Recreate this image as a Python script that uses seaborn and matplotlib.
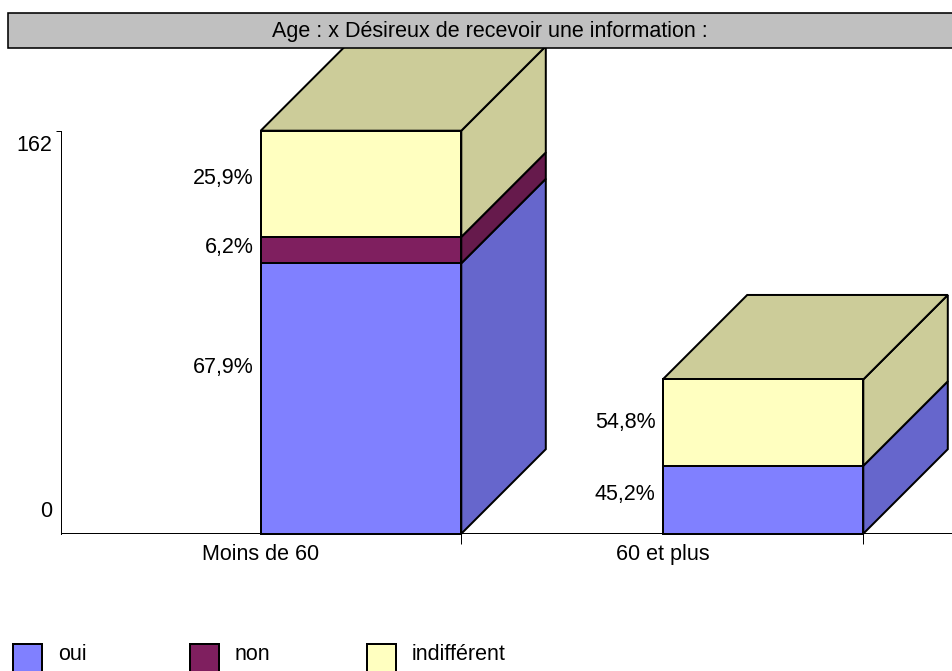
import numpy as np
import pandas as pd
import matplotlib
matplotlib.use("Agg")
import matplotlib.pyplot as plt
import matplotlib.patches as mpatches
from matplotlib.transforms import ScaledTranslation
import seaborn as sns

W, H = 952, 671
PX = 72 / 100  # points per pixel at dpi 100
FS = 15.5

TITLE = "Age : x Désireux de recevoir une information :"
AGES = ["Moins de 60", "60 et plus"]
# heights
OUI = [108.7, 27.3]
NON = [10.6, 0]
INDIFF = [42.7, 34.7]
YMAX = 162

# printed labels per age group (oui, non, indifferent)
PCT_LABELS = [["67,9%", "6,2%", "25,9%"], ["45,2%", "", "54,8%"]]

SERIES = ["oui", "non", "indifférent"]
FRONT = ["#8080FF", "#7F1F5F", "#FFFFC0"]
SIDE = ["#6666CC", "#661A4C", "#CCCC99"]
TOP_COLOR = "#CCCC99"

# upward nudge of each % label from its segment centre, pixels
LABEL_NUDGE = [[30.5, 3, 5], [5.7, 0, 0.5]]
DEPTH = 84.5  # pixels
AX_LEFT, AX_BOTTOM, AX_TOP = 61, 533.7, 130.7
BAND = 402
BAR_WIDTH = 200.6 / BAND

sns.set_theme(style="white")
plt.rcParams["font.family"] = ["Liberation Sans", "DejaVu Sans"]
plt.rcParams["font.size"] = FS

df = pd.DataFrame({"age": AGES, "oui": OUI, "non": NON, "indifférent": INDIFF})
totals = df[SERIES].sum(axis=1).to_numpy()

fig = plt.figure(figsize=(W / 100, H / 100), dpi=100)
ax = fig.add_axes([AX_LEFT / W, 1 - AX_BOTTOM / H, (W - AX_LEFT) / W, (AX_BOTTOM - AX_TOP) / H])

# stacked front faces
bottom = np.zeros(len(df))
for name, color in zip(SERIES, FRONT):
    sns.barplot(data=df, x="age", y=name, order=AGES, bottom=bottom, color=color,
                saturation=1, width=BAR_WIDTH, edgecolor="black", linewidth=2 * PX,
                ax=ax, zorder=3, clip_on=False)
    bottom = bottom + df[name].to_numpy()

ax.set_xlim((AX_LEFT - 361) / BAND, (W - 361) / BAND)
ax.set_ylim(0, YMAX)
ax.set_xlabel("")
ax.set_ylabel("")

# fake 3D: side and top faces, built from the bars seaborn drew
dx = DEPTH / BAND
dy = DEPTH * YMAX / (AX_BOTTOM - AX_TOP)
n_cat = len(AGES)
for i_s, color in enumerate(SIDE):
    for i_c in range(n_cat):
        bar = ax.containers[i_s][i_c]
        h = bar.get_height()
        if h == 0:
            continue
        x0, x1, y0 = bar.get_x(), bar.get_x() + bar.get_width(), bar.get_y()
        y1 = y0 + h
        ax.fill([x1, x1 + dx, x1 + dx, x1], [y0, y0 + dy, y1 + dy, y1],
                facecolor=color, edgecolor="black", linewidth=2 * PX, zorder=2, clip_on=False)
        if np.isclose(y1, totals[i_c]):
            ax.fill([x0, x1, x1 + dx, x0 + dx], [y1, y1, y1 + dy, y1 + dy],
                    facecolor=TOP_COLOR, edgecolor="black", linewidth=2 * PX, zorder=2, clip_on=False)
        ax.annotate(PCT_LABELS[i_c][i_s], (x0, y0 + h / 2), xytext=(-7 * PX, LABEL_NUDGE[i_c][i_s] * PX),
                    textcoords="offset points", ha="right", va="center", color="black", fontsize=FS)

# axes
sns.despine(ax=ax)
for s in ["left", "bottom"]:
    ax.spines[s].set_color("black")
    ax.spines[s].set_linewidth(1 * PX)
ax.spines["bottom"].set_position(("outward", -1.2 * PX))

ax.set_xticks([i + BAR_WIDTH / 2 for i in range(n_cat)])
ax.set_xticklabels([])
ax.set_xticks([i - BAR_WIDTH / 2 for i in range(n_cat)], labels=AGES, minor=True)
ax.tick_params(axis="x", which="major", bottom=True, length=11 * PX, width=1 * PX, color="black")
ax.tick_params(axis="x", which="minor", bottom=True, length=0, pad=11 * PX, labelsize=FS, labelcolor="black")

ax.set_yticks([0, YMAX], labels=["0", str(YMAX)])
ax.tick_params(axis="y", left=True, length=5 * PX, width=1 * PX, color="black",
               pad=4 * PX, labelsize=FS, labelcolor="black")
ticks = ax.yaxis.get_major_ticks()
ticks[0].tick1line.set_visible(False)
# value labels sit inside the axis range, not level with their ticks
for tick, shift in zip(ticks, [24.7, -12.3]):
    tick.label1.set_transform(tick.label1.get_transform()
                              + ScaledTranslation(0, shift * PX / 72, fig.dpi_scale_trans))

# title band
fig.add_artist(mpatches.Rectangle((7.5 / W, 1 - 47.5 / H), (W + 5 - 7.5) / W, 34.5 / H, transform=fig.transFigure,
                                  facecolor="#C0C0C0", edgecolor="black", linewidth=1.6 * PX, zorder=5))
fig.text(489.5 / W, 1 - 32 / H, TITLE, ha="center", va="center", color="black", fontsize=FS, zorder=6)

# legend, runs off the bottom of the image as in the source
for i, (name, color) in enumerate(zip(SERIES, FRONT)):
    left = 13 + i * 177
    fig.add_artist(mpatches.Rectangle((left / W, 1 - 673 / H), 29 / W, 29 / H, transform=fig.transFigure,
                                      facecolor=color, edgecolor="black", linewidth=2 * PX, zorder=5))
    fig.text((left + 45) / W, 1 - 655 / H, name, ha="left", va="center", color="black", fontsize=FS, zorder=6)

fig.savefig("out.png", dpi=100)
